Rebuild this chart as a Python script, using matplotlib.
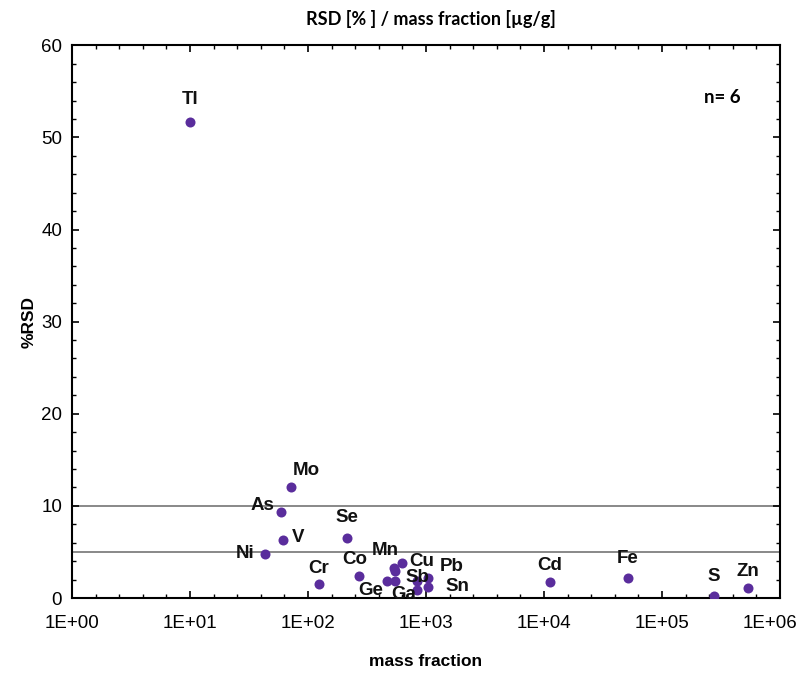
import numpy as np
import matplotlib
matplotlib.use('Agg')
import matplotlib.pyplot as plt
import matplotlib.transforms as mtransforms
from matplotlib.ticker import FixedLocator, FuncFormatter, MultipleLocator

# elements, mass fraction [ug/g] and %RSD
elements = ['Tl', 'Mo', 'As', 'V', 'Ni', 'Se', 'Cr', 'Co', 'Mn', '', 'Cu',
            'Ge', 'Ga', 'Sb', '', 'Pb', 'Sn', 'Cd', 'Fe', 'S', 'Zn']
mass = [10, 72, 59, 61, 43, 214, 124, 271, 536, 546, 626,
        467, 546, 839, 839, 1040, 1040, 11240, 51500, 276000, 535000]
rsd = [51.7, 12.0, 9.3, 6.3, 4.8, 6.5, 1.5, 2.4, 3.3, 2.9, 3.8,
       1.9, 1.9, 1.9, 0.9, 2.2, 1.2, 1.7, 2.2, 0.2, 1.1]
# label offsets in points (dx, dy)
offsets = [(0, 16), (11, 12), (-13, 5), (11, 2), (-14, 0), (0, 15), (0, 11),
           (-3, 12), (-6, 12), (0, 0), (14, 1), (-12, -7), (6, -10), (0, 2),
           (0, 0), (17, 8), (21, 0), (0, 12), (0, 14), (0, 14), (0, 12)]

limits = [10, 5]

fig = plt.figure(figsize=(8.05, 6.75), dpi=100)
ax = fig.add_axes([0.0894, 0.114, 0.8796, 0.819])

ax.scatter(mass, rsd, s=52, color='#5a2d9c', zorder=3, linewidths=0)
for h in limits:
    ax.axhline(h, color='#7f7f7f', lw=1.3, zorder=1)

for name, x, y, (dx, dy) in zip(elements, mass, rsd, offsets):
    if name:
        ax.annotate(name, (x, y), xytext=(dx, dy), textcoords='offset points',
                    ha='center', va='center', fontsize=13.5, fontweight='bold',
                    family='Liberation Sans', color='#111111')

ax.set_xscale('log')
ax.set_xlim(1, 1e6)
ax.set_ylim(0, 60)
ax.xaxis.set_major_locator(FixedLocator([10.0 ** k for k in range(7)]))
ax.xaxis.set_minor_locator(FixedLocator([10 ** (k / 5) for k in range(31) if k % 5]))
ax.xaxis.set_major_formatter(FuncFormatter(lambda v, p: '1E+%02d' % round(np.log10(v))))
ax.xaxis.set_minor_formatter(FuncFormatter(lambda v, p: ''))
ax.yaxis.set_major_locator(MultipleLocator(10))
ax.yaxis.set_minor_locator(MultipleLocator(2))

ax.tick_params(which='both', direction='in', top=True, right=True,
               labelsize=13.5)
ax.tick_params(axis='x', pad=12)
ax.tick_params(axis='y', pad=7)
ax.tick_params(which='major', length=5, width=1.2)
ax.tick_params(which='minor', length=3, width=1)
for lab in ax.get_xticklabels() + ax.get_yticklabels():
    lab.set_family('Liberation Sans')
# nudge the last x label so it stays inside the figure
last = ax.xaxis.get_major_ticks()[-1].label1
last.set_transform(last.get_transform() +
                   mtransforms.ScaledTranslation(-0.1, 0, fig.dpi_scale_trans))
for s in ax.spines.values():
    s.set_linewidth(1.5)

ax.set_xlabel('mass fraction', fontsize=12.5, fontweight='bold',
              family='Liberation Sans', labelpad=16)
ax.set_ylabel('%RSD', fontsize=12.5, fontweight='bold',
              family='Liberation Sans', labelpad=3)
fig.text(0.535, 0.972, 'RSD [% ] / mass fraction [µg/g]', ha='center', va='center',
         fontsize=13, fontweight='bold', family='Lato')
ax.text(0.945, 0.905, 'n= 6', transform=ax.transAxes, ha='right', va='center',
        fontsize=13.5, fontweight='bold', family='Lato')

fig.savefig('out.png', dpi=100)
